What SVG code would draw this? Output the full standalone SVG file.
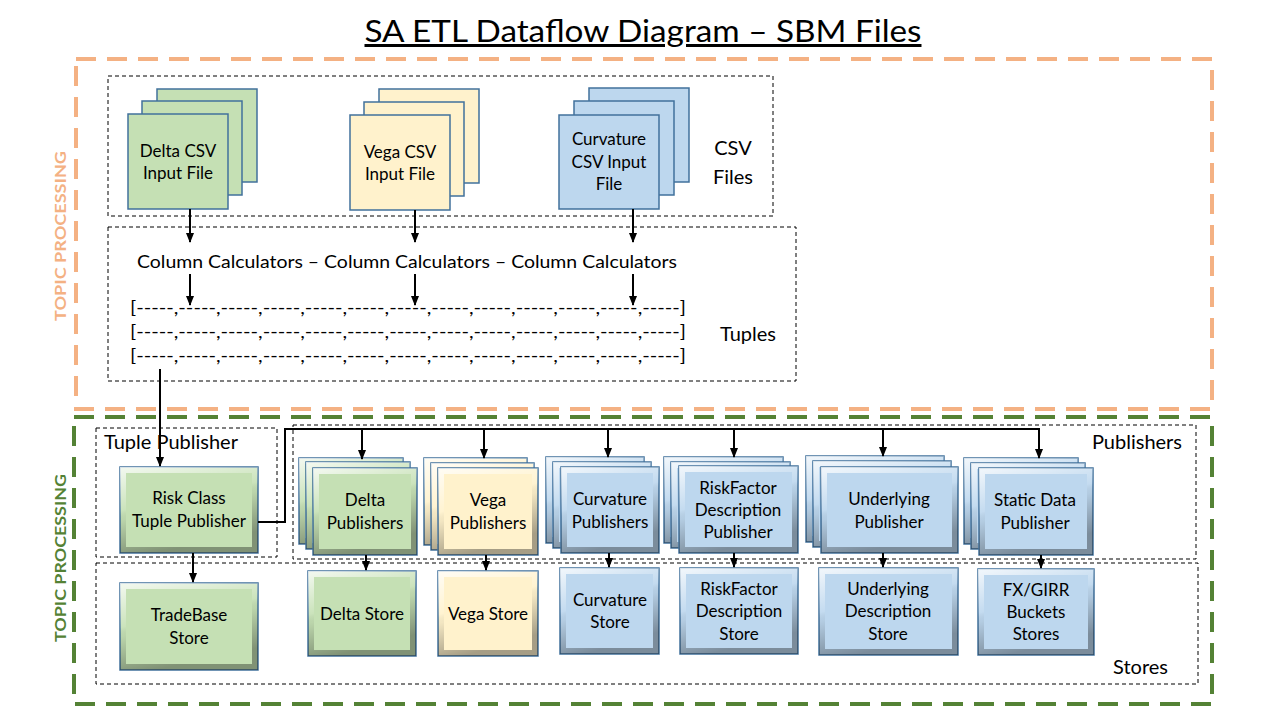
<svg xmlns="http://www.w3.org/2000/svg" width="1280" height="720" viewBox="0 0 1280 720">
<defs>
<marker id="ah" markerWidth="10" markerHeight="8" refX="9" refY="4" orient="auto" markerUnits="userSpaceOnUse"><path d="M0,0 L10,4 L0,8 z" fill="#000"/></marker>
<linearGradient id="bev" x1="0" y1="0" x2="0.35" y2="1"><stop offset="0" stop-color="#fff" stop-opacity="0.75"/><stop offset="0.45" stop-color="#fff" stop-opacity="0.1"/><stop offset="0.55" stop-color="#000" stop-opacity="0.05"/><stop offset="1" stop-color="#000" stop-opacity="0.35"/></linearGradient>
<style>
text{font-family:Lato,"Liberation Sans",sans-serif;fill:#000}
.t{font-size:17px;text-anchor:middle}
.lbl{font-size:20px}
.dash{fill:none;stroke:#000;stroke-width:1;stroke-dasharray:4 3}
.box{stroke:#41719C;stroke-width:1.5}
.g{fill:#C5E0B4}.y{fill:#FFF2CC}.b{fill:#BDD7EE}
.bv{fill:none;stroke:url(#bev);stroke-width:6}
.c{fill:none;stroke:#000;stroke-width:2}
.ca{fill:none;stroke:#000;stroke-width:2;marker-end:url(#ah)}
</style>
</defs>
<rect width="1280" height="720" fill="#fff"/>
<text x="643" y="42" font-size="30" text-anchor="middle" text-decoration="underline" textLength="557" lengthAdjust="spacingAndGlyphs">SA ETL Dataflow Diagram – SBM Files</text>

<g id="topic-orange">
<rect x="76" y="59" width="1136" height="350" fill="none" stroke="#F4B183" stroke-width="4" stroke-dasharray="20 11"/>
<text transform="translate(66,236) rotate(-90)" font-size="16" font-weight="bold" text-anchor="middle" style="fill:#F4B183" textLength="170" lengthAdjust="spacingAndGlyphs">TOPIC PROCESSING</text>
</g>
<g id="topic-green">
<rect x="74" y="417" width="1138" height="287" fill="none" stroke="#548235" stroke-width="4" stroke-dasharray="20 11"/>
<text transform="translate(66,558) rotate(-90)" font-size="16" font-weight="bold" text-anchor="middle" style="fill:#548235" textLength="168" lengthAdjust="spacingAndGlyphs">TOPIC PROCESSING</text>
</g>

<g id="csv-files">
<rect class="dash" x="108" y="76" width="665" height="140"/>
<text class="lbl" x="733" y="155" text-anchor="middle">CSV</text>
<text class="lbl" x="733" y="184" text-anchor="middle">Files</text>
</g>
<g id="tuples">
<rect class="dash" x="108" y="227" width="688" height="154"/>
<text x="407" y="268" font-size="18" text-anchor="middle" textLength="540" lengthAdjust="spacingAndGlyphs">Column Calculators – Column Calculators – Column Calculators</text>
<text x="130" y="314" font-size="18" textLength="556" lengthAdjust="spacingAndGlyphs">[-----,-----,-----,-----,-----,-----,-----,-----,-----,-----,-----,-----,-----]</text>
<text x="130" y="338" font-size="18" textLength="556" lengthAdjust="spacingAndGlyphs">[-----,-----,-----,-----,-----,-----,-----,-----,-----,-----,-----,-----,-----]</text>
<text x="130" y="362" font-size="18" textLength="556" lengthAdjust="spacingAndGlyphs">[-----,-----,-----,-----,-----,-----,-----,-----,-----,-----,-----,-----,-----]</text>
<text class="lbl" x="748" y="341" text-anchor="middle">Tuples</text>
</g>
<g id="tuple-publisher-area">
<rect class="dash" x="96" y="428" width="181" height="129"/>
<text class="lbl" x="104" y="449">Tuple Publisher</text>
</g>
<g id="publishers-area">
<rect class="dash" x="293" y="425" width="903" height="134"/>
<text class="lbl" x="1182" y="449" text-anchor="end">Publishers</text>
</g>
<g id="stores-area">
<rect class="dash" x="96" y="563" width="1102" height="121"/>
<text class="lbl" x="1168" y="674" text-anchor="end">Stores</text>
</g>

<g id="delta-csv">
<rect class="box g" x="157" y="89" width="100" height="93"/>
<rect class="box g" x="142" y="101" width="100" height="94"/>
<rect class="box g" x="128" y="114" width="100" height="95"/>
<text class="t" x="178" y="157">Delta CSV</text>
<text class="t" x="178" y="179">Input File</text>
</g>
<g id="vega-csv">
<rect class="box y" x="379" y="89" width="100" height="94"/>
<rect class="box y" x="364" y="102" width="100" height="94"/>
<rect class="box y" x="350" y="115" width="100" height="95"/>
<text class="t" x="400" y="158">Vega CSV</text>
<text class="t" x="400" y="180">Input File</text>
</g>
<g id="curvature-csv">
<rect class="box b" x="589" y="88" width="100" height="94"/>
<rect class="box b" x="574" y="101" width="100" height="94"/>
<rect class="box b" x="559" y="115" width="100" height="94"/>
<text class="t" x="609" y="145">Curvature</text>
<text class="t" x="609" y="168">CSV Input</text>
<text class="t" x="609" y="190">File</text>
</g>

<g id="risk-class-tuple-publisher">
<rect class="box g" x="120" y="467" width="138" height="86"/><rect class="bv" x="123" y="470" width="132" height="80"/>
<text class="t" x="189" y="504">Risk Class</text>
<text class="t" x="189" y="527">Tuple Publisher</text>
</g>

<g id="delta-publishers">
<rect class="box g" x="299" y="458" width="104" height="86"/><rect class="bv" x="302" y="461" width="98" height="80"/>
<rect class="box g" x="306" y="462" width="104" height="87"/><rect class="bv" x="309" y="465" width="98" height="81"/>
<rect class="box g" x="313" y="468" width="104" height="87"/><rect class="bv" x="316" y="471" width="98" height="81"/>
<text class="t" x="365" y="506">Delta</text>
<text class="t" x="365" y="529">Publishers</text>
</g>
<g id="vega-publishers">
<rect class="box y" x="424" y="458" width="103" height="87"/><rect class="bv" x="427" y="461" width="97" height="81"/>
<rect class="box y" x="431" y="463" width="103" height="87"/><rect class="bv" x="434" y="466" width="97" height="81"/>
<rect class="box y" x="438" y="468" width="100" height="87"/><rect class="bv" x="441" y="471" width="94" height="81"/>
<text class="t" x="488" y="506">Vega</text>
<text class="t" x="488" y="529">Publishers</text>
</g>
<g id="curvature-publishers">
<rect class="box b" x="546" y="457" width="98" height="86"/><rect class="bv" x="549" y="460" width="92" height="80"/>
<rect class="box b" x="553" y="462" width="98" height="86"/><rect class="bv" x="556" y="465" width="92" height="80"/>
<rect class="box b" x="561" y="467" width="98" height="86"/><rect class="bv" x="564" y="470" width="92" height="80"/>
<text class="t" x="610" y="505">Curvature</text>
<text class="t" x="610" y="528">Publishers</text>
</g>
<g id="riskfactor-publisher">
<rect class="box b" x="664" y="457" width="119" height="86"/><rect class="bv" x="667" y="460" width="113" height="80"/>
<rect class="box b" x="671" y="462" width="119" height="86"/><rect class="bv" x="674" y="465" width="113" height="80"/>
<rect class="box b" x="679" y="466" width="119" height="87"/><rect class="bv" x="682" y="469" width="113" height="81"/>
<text class="t" x="738" y="494">RiskFactor</text>
<text class="t" x="738" y="516">Description</text>
<text class="t" x="738" y="538">Publisher</text>
</g>
<g id="underlying-publisher">
<rect class="box b" x="806" y="456" width="138" height="86"/><rect class="bv" x="809" y="459" width="132" height="80"/>
<rect class="box b" x="813" y="461" width="138" height="86"/><rect class="bv" x="816" y="464" width="132" height="80"/>
<rect class="box b" x="821" y="467" width="137" height="86"/><rect class="bv" x="824" y="470" width="131" height="80"/>
<text class="t" x="889" y="505">Underlying</text>
<text class="t" x="889" y="528">Publisher</text>
</g>
<g id="static-data-publisher">
<rect class="box b" x="964" y="458" width="114" height="86"/><rect class="bv" x="967" y="461" width="108" height="80"/>
<rect class="box b" x="971" y="463" width="114" height="86"/><rect class="bv" x="974" y="466" width="108" height="80"/>
<rect class="box b" x="979" y="468" width="114" height="87"/><rect class="bv" x="982" y="471" width="108" height="81"/>
<text class="t" x="1035" y="506">Static Data</text>
<text class="t" x="1035" y="529">Publisher</text>
</g>

<g id="tradebase-store">
<rect class="box g" x="120" y="583" width="138" height="87"/><rect class="bv" x="123" y="586" width="132" height="81"/>
<text class="t" x="189" y="621">TradeBase</text>
<text class="t" x="189" y="644">Store</text>
</g>
<g id="delta-store">
<rect class="box g" x="308" y="571" width="108" height="85"/><rect class="bv" x="311" y="574" width="102" height="79"/>
<text class="t" x="362" y="620">Delta Store</text>
</g>
<g id="vega-store">
<rect class="box y" x="438" y="571" width="100" height="85"/><rect class="bv" x="441" y="574" width="94" height="79"/>
<text class="t" x="488" y="620">Vega Store</text>
</g>
<g id="curvature-store">
<rect class="box b" x="560" y="568" width="99" height="86"/><rect class="bv" x="563" y="571" width="93" height="80"/>
<text class="t" x="610" y="606">Curvature</text>
<text class="t" x="610" y="628">Store</text>
</g>
<g id="riskfactor-store">
<rect class="box b" x="680" y="568" width="118" height="86"/><rect class="bv" x="683" y="571" width="112" height="80"/>
<text class="t" x="739" y="595">RiskFactor</text>
<text class="t" x="739" y="617">Description</text>
<text class="t" x="739" y="640">Store</text>
</g>
<g id="underlying-store">
<rect class="box b" x="819" y="568" width="139" height="87"/><rect class="bv" x="822" y="571" width="133" height="81"/>
<text class="t" x="888" y="595">Underlying</text>
<text class="t" x="888" y="617">Description</text>
<text class="t" x="888" y="640">Store</text>
</g>
<g id="fx-girr-store">
<rect class="box b" x="978" y="569" width="116" height="86"/><rect class="bv" x="981" y="572" width="110" height="80"/>
<text class="t" x="1036" y="596">FX/GIRR</text>
<text class="t" x="1036" y="618">Buckets</text>
<text class="t" x="1036" y="640">Stores</text>
</g>

<g id="connectors">
<path class="ca" d="M190,209 V242"/>
<path class="ca" d="M415,210 V242"/>
<path class="ca" d="M633,209 V242"/>
<path class="ca" d="M190,274 V305"/>
<path class="ca" d="M415,274 V305"/>
<path class="ca" d="M633,274 V305"/>
<path class="ca" d="M160,369 V466"/>
<path class="c" d="M258,522 H285 V429 H1040"/>
<path class="ca" d="M362,429 V459"/>
<path class="ca" d="M484,429 V458"/>
<path class="ca" d="M608,429 V457"/>
<path class="ca" d="M734,429 V457"/>
<path class="ca" d="M883,429 V456"/>
<path class="ca" d="M1039,428 V458"/>
<path class="ca" d="M193,553 V582"/>
<path class="ca" d="M366,555 V570"/>
<path class="ca" d="M486,555 V570"/>
<path class="ca" d="M609,553 V567"/>
<path class="ca" d="M734,553 V567"/>
<path class="ca" d="M883,553 V567"/>
<path class="ca" d="M1041,555 V568"/>
</g>
</svg>
